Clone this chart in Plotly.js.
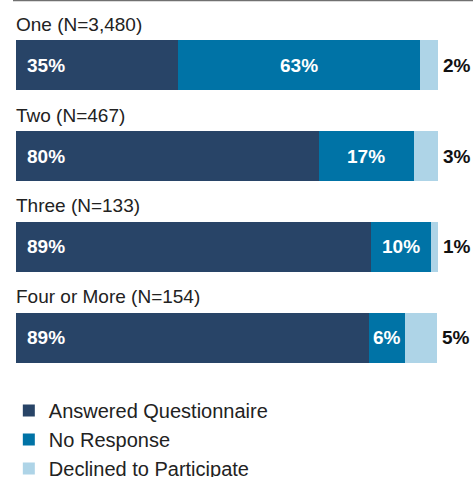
<!DOCTYPE html>
<html>
<head>
<meta charset="utf-8">
<script src="https://cdn.plot.ly/plotly-3.0.1.min.js"></script>
<style>html,body{margin:0;padding:0;background:#fff;}#chart{width:473px;height:477px;}</style>
</head>
<body>
<div id="chart"></div>
<script>
// Categories (group labels shown above each bar)
var categories = ['One (N=3,480)', 'Two (N=467)', 'Three (N=133)', 'Four or More (N=154)'];
// Segment shares as drawn in the picture (bar lengths)
var answered = [38.4, 71.8, 84.1, 83.7];
var noResponse = [57.3, 22.5, 14.2, 8.5];
var declined = [4.3, 5.7, 1.7, 7.6];
// Printed percentage labels
var answeredText = ['35%', '80%', '89%', '89%'];
var noResponseText = ['63%', '17%', '10%', '6%'];
var declinedText = ['2%', '3%', '1%', '5%'];
var seriesNames = ['Answered Questionnaire', 'No Response', 'Declined to Participate'];
var colors = ['#284467', '#0073A6', '#AED4E7'];

var FONT = '"Liberation Sans", Arial, Helvetica, sans-serif';

function barTrace(vals, name, color) {
  return {
    type: 'bar', orientation: 'h', y: categories, x: vals, name: name,
    marker: {color: color, line: {width: 0}}, hoverinfo: 'skip'
  };
}
var data = [
  barTrace(answered, seriesNames[0], colors[0]),
  barTrace(noResponse, seriesNames[1], colors[1]),
  barTrace(declined, seriesNames[2], colors[2])
];

var annotations = [];
categories.forEach(function (c, i) {
  annotations.push({x: 0, y: c, xref: 'x', yref: 'y', text: c, showarrow: false,
    xanchor: 'left', yanchor: 'middle', yshift: 41, xshift: -2,
    font: {family: FONT, size: 19, color: '#222'}});
  annotations.push({x: 0, y: c, xref: 'x', yref: 'y', text: '<b>' + answeredText[i] + '</b>', showarrow: false,
    xanchor: 'left', yanchor: 'middle', xshift: 9,
    font: {family: FONT, size: 19, color: '#fff'}});
  annotations.push({x: answered[i] + noResponse[i] / 2, y: c, xref: 'x', yref: 'y',
    text: '<b>' + noResponseText[i] + '</b>', showarrow: false,
    xanchor: 'center', yanchor: 'middle',
    font: {family: FONT, size: 19, color: '#fff'}});
  annotations.push({x: answered[i] + noResponse[i] + declined[i], y: c, xref: 'x', yref: 'y',
    text: '<b>' + declinedText[i] + '</b>', showarrow: false,
    xanchor: 'left', yanchor: 'middle', xshift: 3,
    font: {family: FONT, size: 19, color: '#111'}});
});

var layout = {
  width: 473, height: 477,
  margin: {l: 16, r: 35, t: 20, b: 94, pad: 0, autoexpand: false},
  paper_bgcolor: '#fff', plot_bgcolor: '#fff',
  barmode: 'stack', bargap: 0.449,
  showlegend: true,
  legend: {x: -0.017, y: -0.022, xanchor: 'left', yanchor: 'top',
    font: {family: FONT, size: 20, color: '#222'}, traceorder: 'normal',
    bgcolor: 'rgba(0,0,0,0)', tracegroupgap: 0},
  xaxis: {range: [0, 100], visible: false, fixedrange: true},
  yaxis: {type: 'category', range: [3.5, -0.5], visible: false, fixedrange: true},
  annotations: annotations,
  shapes: [{type: 'line', xref: 'paper', yref: 'paper', x0: -0.0071, x1: 1.1, y0: 1.0537, y1: 1.0537,
    line: {color: '#707070', width: 1.5}}],
  font: {family: FONT}
};
Plotly.newPlot('chart', data, layout, {displayModeBar: false, staticPlot: true});
</script>
</body>
</html>
